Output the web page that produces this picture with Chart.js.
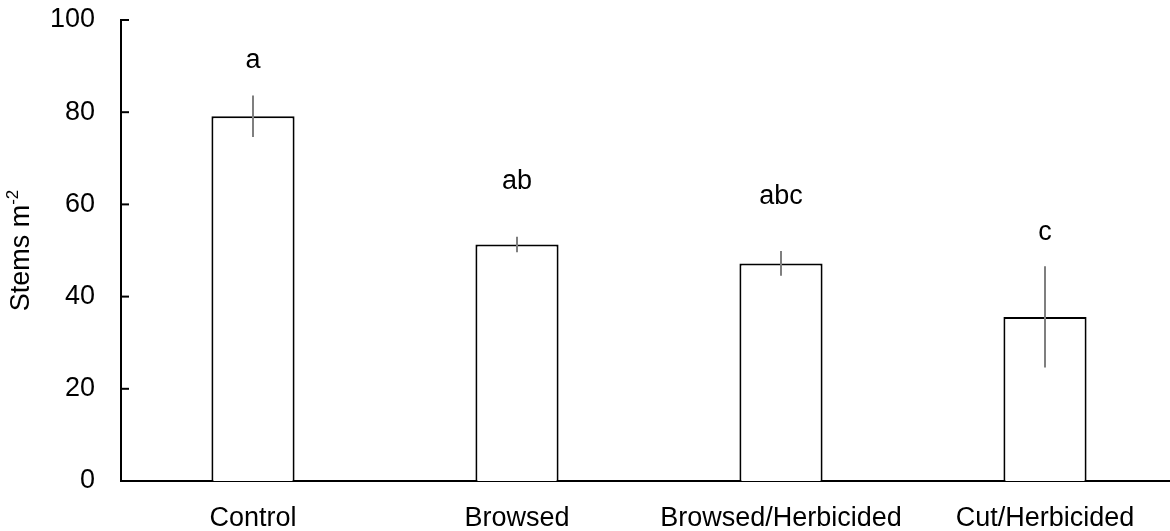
<!DOCTYPE html>
<html>
<head>
<meta charset="utf-8">
<script src="https://cdn.jsdelivr.net/npm/chart.js@4/dist/chart.umd.min.js"></script>
<style>
    html, body { margin: 0; padding: 0; background: #fff; overflow: hidden; }
    #wrap { position: relative; width: 1177px; height: 531px; }
</style>
</head>
<body>
<div id="wrap"><canvas id="chart"></canvas></div>
<script>
    /* --- Data --- */
    const categories = ['Control', 'Browsed', 'Browsed/Herbicided', 'Cut/Herbicided'];
    const means = [79.1, 51.3, 47.2, 35.6];
    const errors = [4.5, 1.7, 2.7, 11.0];
    const letters = ['a', 'ab', 'abc', 'c'];
    const letterY = [91.3, 64.9, 61.6, 53.8];
    const yTicks = [0, 20, 40, 60, 80, 100];

    const FONT = '"Liberation Sans", Arial, sans-serif';

    // error bars, significance letters, inward y ticks and y title
    const extras = {
        id: 'extras',
        afterDatasetsDraw(chart) {
            const ctx = chart.ctx;
            const y = chart.scales.y;
            const meta = chart.getDatasetMeta(0);

            ctx.save();
            ctx.strokeStyle = '#7f7f7f';
            ctx.lineWidth = 2;
            meta.data.forEach((bar, i) => {
                ctx.beginPath();
                ctx.moveTo(bar.x, y.getPixelForValue(means[i] + errors[i]));
                ctx.lineTo(bar.x, y.getPixelForValue(means[i] - errors[i]));
                ctx.stroke();
            });

            ctx.fillStyle = '#000';
            ctx.font = '27px ' + FONT;
            ctx.textAlign = 'center';
            ctx.textBaseline = 'middle';
            meta.data.forEach((bar, i) => {
                ctx.fillText(letters[i], bar.x, y.getPixelForValue(letterY[i]));
            });

            // tick marks pointing into the plot
            ctx.strokeStyle = '#000';
            ctx.lineWidth = 2;
            yTicks.forEach(v => {
                const py = y.getPixelForValue(v);
                ctx.beginPath();
                ctx.moveTo(y.right, py);
                ctx.lineTo(y.right + 8, py);
                ctx.stroke();
            });

            // axis title with superscript
            const cy = (chart.chartArea.top + chart.chartArea.bottom) / 2;
            ctx.translate(22, cy);
            ctx.rotate(-Math.PI / 2);
            ctx.font = '27px ' + FONT;
            const main = 'Stems m';
            const w1 = ctx.measureText(main).width;
            ctx.font = '17px ' + FONT;
            const w2 = ctx.measureText('-2').width;
            const x0 = -(w1 + w2) / 2;
            ctx.textAlign = 'left';
            ctx.textBaseline = 'middle';
            ctx.font = '27px ' + FONT;
            ctx.fillText(main, x0, 0);
            ctx.font = '17px ' + FONT;
            ctx.fillText('-2', x0 + w1, -9);
            ctx.restore();
        }
    };

    new Chart(document.getElementById('chart'), {
        type: 'bar',
        data: {
            labels: categories,
            datasets: [{
                data: means,
                backgroundColor: '#fff',
                borderColor: '#000',
                borderWidth: 2,
                categoryPercentage: 1,
                barPercentage: 0.315
            }]
        },
        options: {
            responsive: true,
            maintainAspectRatio: false,
            animation: false,
            layout: { padding: { top: 20, left: 0, right: 0, bottom: 0 } },
            plugins: {
                legend: { display: false },
                tooltip: { enabled: false }
            },
            scales: {
                x: {
                    grid: { display: false, drawTicks: false },
                    border: { display: true, color: '#000', width: 2 },
                    ticks: {
                        color: '#000',
                        font: { family: FONT, size: 27 },
                        padding: 21,
                        maxRotation: 0,
                        autoSkip: false
                    },
                    afterFit: s => { s.height = 50; s.paddingLeft = 0; s.paddingRight = 0; }
                },
                y: {
                    min: 0,
                    max: 100,
                    grid: { display: false, drawTicks: false },
                    border: { display: true, color: '#000', width: 2 },
                    ticks: {
                        stepSize: 20,
                        color: '#000',
                        font: { family: FONT, size: 27 },
                        padding: 26
                    },
                    afterFit: s => { s.width = 121; s.paddingTop = 0; s.paddingBottom = 0; }
                }
            }
        },
        plugins: [extras]
    });
</script>
</body>
</html>
